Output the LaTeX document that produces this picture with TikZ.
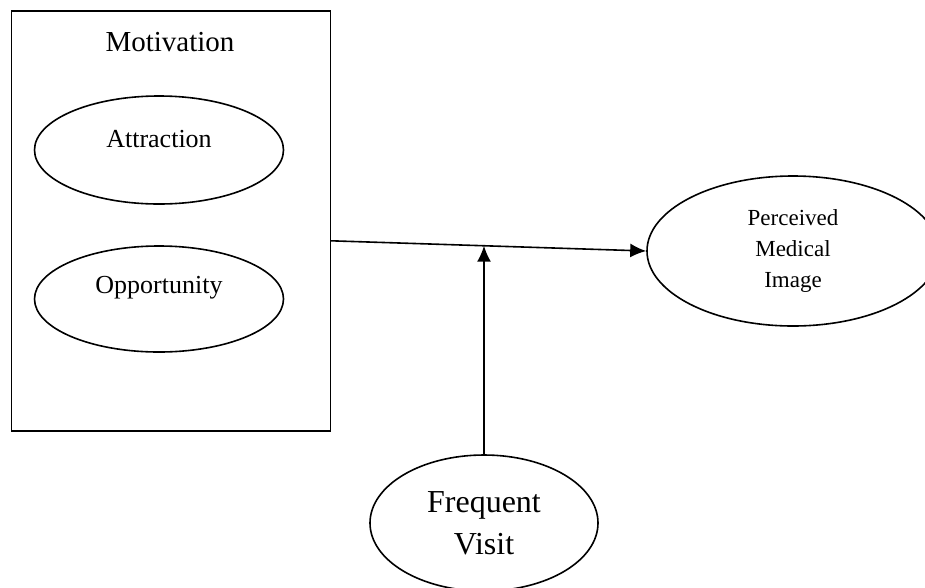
\documentclass[tikz,border=0pt]{standalone}
\usepackage{fontspec}
\setmainfont{Liberation Serif}
\usetikzlibrary{shapes.geometric, arrows.meta}

\begin{document}
\begin{tikzpicture}[x=1pt, y=-1pt, line width=1.6pt, >={Latex[length=16pt, width=14pt]}]
    \useasboundingbox (0,0) rectangle (925,587);
    \clip (0,0) rectangle (925,587);
    \tikzset{oval/.style={draw, ellipse, inner sep=0pt, align=center}}

    \node (MotivationBox) [draw, rectangle, minimum width=319pt, minimum height=420pt, anchor=north west] at (10.5,10) {};
    \node (Motivation) [font=\fontsize{29}{34}\selectfont] at (170,42) {Motivation};
    \node (Attraction) [oval, minimum width=249pt, minimum height=108pt] at (159,150) {};
    \node (AttractionText) [font=\fontsize{26}{30}\selectfont] at ([yshift=11pt]Attraction.center) {Attraction};
    \node (Opportunity) [oval, minimum width=249pt, minimum height=106pt] at (159,299) {};
    \node (OpportunityText) [font=\fontsize{26}{30}\selectfont] at ([yshift=11pt]Opportunity.center) {Opportunity};
    \node (Perceived) [oval, minimum width=292pt, minimum height=150pt, font=\fontsize{23}{31}\selectfont] at (793,251) {Perceived\\Medical\\Image};
    \node (Frequent) [oval, minimum width=228pt, minimum height=136pt, font=\fontsize{32}{42}\selectfont] at (484,523) {Frequent\\Visit};

    \coordinate (Start) at ([yshift=-20pt]MotivationBox.east);
    \draw[->] (Start) -- (Perceived.west) coordinate[pos=0.483] (Junction);
    \draw[->] (Frequent.north) -- (Frequent.north |- Junction);
\end{tikzpicture}
\end{document}
